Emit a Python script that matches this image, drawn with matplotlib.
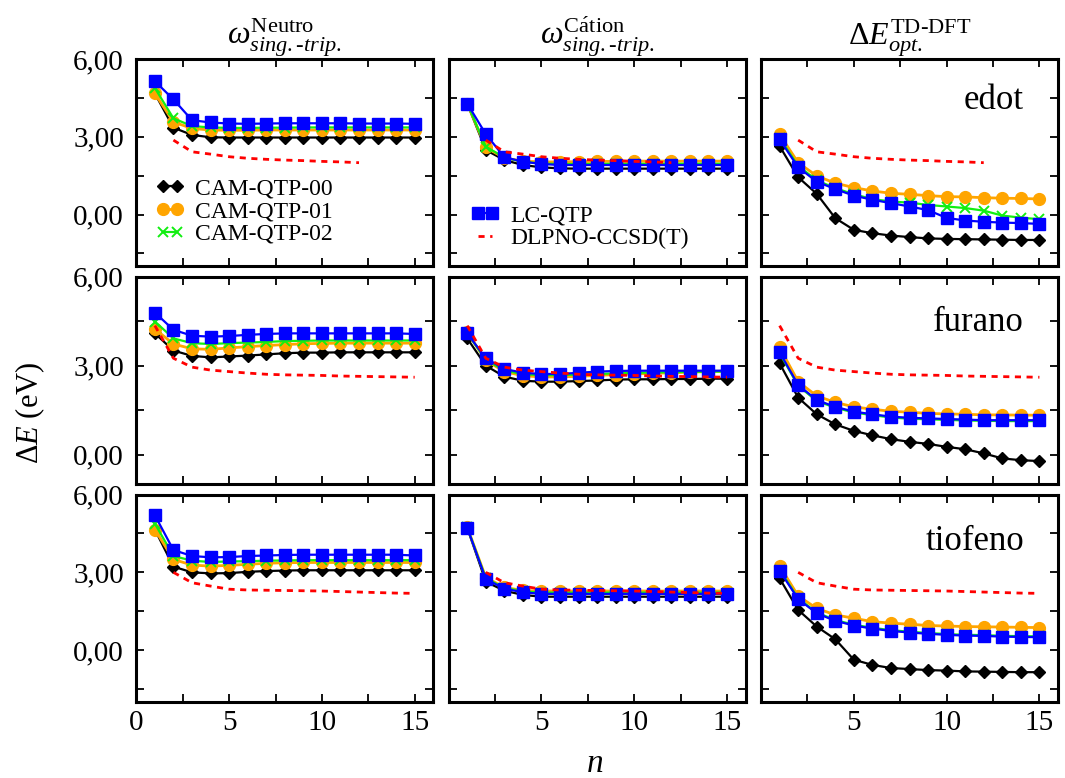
# -*- coding: utf-8 -*-
# plot.py - gaps / singlet-triplet omegas vs chain length n

import matplotlib
matplotlib.use("Agg")
import matplotlib.pyplot as plt
from matplotlib.ticker import MultipleLocator, FuncFormatter

# chain length
n = list(range(1, 16))

# ---------------- edot ----------------
edot_neu_00 = [4.67, 3.35, 3.07, 2.98, 2.97, 2.97, 2.97, 2.97, 2.97, 2.97, 2.97, 2.97, 2.97, 2.97, 2.97]
edot_neu_01 = [4.67, 3.57, 3.32, 3.26, 3.25, 3.25, 3.26, 3.26, 3.26, 3.26, 3.26, 3.26, 3.26, 3.26, 3.26]
edot_neu_02 = [4.88, 3.71, 3.41, 3.36, 3.34, 3.34, 3.35, 3.35, 3.36, 3.36, 3.36, 3.36, 3.36, 3.36, 3.36]
edot_neu_lc = [5.14, 4.44, 3.64, 3.55, 3.51, 3.50, 3.51, 3.52, 3.52, 3.52, 3.52, 3.51, 3.51, 3.51, 3.50]

edot_cat_00 = [4.28, 2.49, 2.10, 1.91, 1.82, 1.78, 1.77, 1.77, 1.77, 1.77, 1.77, 1.77, 1.77, 1.77, 1.77]
edot_cat_01 = [4.28, 2.59, 2.18, 2.06, 2.03, 2.03, 2.04, 2.05, 2.05, 2.06, 2.06, 2.06, 2.06, 2.06, 2.06]
edot_cat_02 = [4.28, 2.62, 2.20, 2.03, 1.97, 1.95, 1.95, 1.95, 1.96, 1.96, 1.96, 1.96, 1.96, 1.96, 1.96]
edot_cat_lc = [4.28, 3.10, 2.21, 2.04, 1.95, 1.91, 1.91, 1.91, 1.91, 1.91, 1.91, 1.91, 1.91, 1.91, 1.91]

edot_opt_00 = [2.64, 1.44, 0.80, -0.14, -0.59, -0.72, -0.81, -0.87, -0.92, -0.94, -0.95, -0.96, -0.97, -0.98, -0.98]
edot_opt_01 = [3.09, 2.00, 1.49, 1.21, 1.04, 0.91, 0.82, 0.78, 0.73, 0.69, 0.68, 0.65, 0.63, 0.62, 0.60]
edot_opt_02 = [2.95, 1.88, 1.32, 1.02, 0.78, 0.60, 0.50, 0.46, 0.37, 0.31, 0.25, 0.15, -0.04, -0.12, -0.18]
edot_opt_lc = [2.90, 1.82, 1.27, 0.98, 0.73, 0.57, 0.44, 0.31, 0.17, -0.13, -0.23, -0.28, -0.31, -0.33, -0.36]

edot_ref_n = [2, 3, 4, 5, 6, 7, 8, 9, 10, 11, 12]
edot_ref = [2.87, 2.42, 2.33, 2.23, 2.17, 2.13, 2.10, 2.08, 2.05, 2.03, 2.00]

# ---------------- furano ----------------
fur_neu_00 = [4.09, 3.51, 3.33, 3.28, 3.31, 3.34, 3.38, 3.42, 3.44, 3.44, 3.45, 3.45, 3.45, 3.45, 3.45]
fur_neu_01 = [4.24, 3.73, 3.57, 3.55, 3.60, 3.64, 3.68, 3.71, 3.74, 3.75, 3.76, 3.76, 3.76, 3.76, 3.76]
fur_neu_02 = [4.49, 3.92, 3.76, 3.73, 3.76, 3.78, 3.80, 3.83, 3.84, 3.85, 3.85, 3.85, 3.85, 3.85, 3.85]
fur_neu_lc = [4.79, 4.21, 4.01, 3.98, 4.00, 4.04, 4.07, 4.09, 4.09, 4.09, 4.09, 4.09, 4.09, 4.09, 4.07]

fur_cat_00 = [3.92, 3.00, 2.63, 2.49, 2.46, 2.46, 2.48, 2.50, 2.53, 2.54, 2.54, 2.55, 2.55, 2.56, 2.56]
fur_cat_01 = [4.12, 3.18, 2.80, 2.66, 2.62, 2.62, 2.64, 2.67, 2.70, 2.72, 2.74, 2.76, 2.78, 2.80, 2.82]
fur_cat_02 = [4.10, 3.20, 2.84, 2.71, 2.68, 2.68, 2.70, 2.72, 2.74, 2.76, 2.77, 2.78, 2.79, 2.80, 2.80]
fur_cat_lc = [4.09, 3.25, 2.89, 2.76, 2.72, 2.72, 2.76, 2.80, 2.82, 2.83, 2.83, 2.83, 2.83, 2.83, 2.83]

fur_opt_00 = [3.08, 1.92, 1.36, 1.02, 0.80, 0.65, 0.52, 0.43, 0.36, 0.26, 0.18, 0.04, -0.13, -0.19, -0.22]
fur_opt_01 = [3.62, 2.46, 1.98, 1.76, 1.61, 1.53, 1.46, 1.43, 1.39, 1.37, 1.36, 1.34, 1.34, 1.33, 1.33]
fur_opt_02 = [3.42, 2.32, 1.81, 1.58, 1.42, 1.33, 1.25, 1.21, 1.19, 1.17, 1.15, 1.14, 1.13, 1.13, 1.13]
fur_opt_lc = [3.45, 2.35, 1.84, 1.61, 1.45, 1.36, 1.28, 1.24, 1.22, 1.20, 1.18, 1.16, 1.16, 1.16, 1.16]

fur_ref_n = n
fur_ref = [4.35, 3.25, 2.95, 2.85, 2.80, 2.75, 2.71, 2.69, 2.68, 2.67, 2.65, 2.64, 2.63, 2.62, 2.61]

# ---------------- tiofeno ----------------
tio_neu_00 = [4.65, 3.22, 3.00, 2.96, 2.97, 3.02, 3.05, 3.07, 3.08, 3.08, 3.08, 3.08, 3.08, 3.08, 3.08]
tio_neu_01 = [4.65, 3.50, 3.28, 3.24, 3.27, 3.31, 3.35, 3.37, 3.38, 3.38, 3.38, 3.38, 3.38, 3.38, 3.38]
tio_neu_02 = [4.88, 3.63, 3.45, 3.40, 3.42, 3.43, 3.45, 3.46, 3.47, 3.47, 3.47, 3.47, 3.47, 3.47, 3.47]
tio_neu_lc = [5.20, 3.86, 3.63, 3.58, 3.59, 3.63, 3.65, 3.67, 3.68, 3.68, 3.68, 3.68, 3.68, 3.68, 3.65]

tio_cat_00 = [4.72, 2.64, 2.29, 2.13, 2.06, 2.06, 2.06, 2.06, 2.06, 2.06, 2.06, 2.06, 2.06, 2.06, 2.06]
tio_cat_01 = [4.74, 2.80, 2.42, 2.30, 2.28, 2.28, 2.28, 2.28, 2.28, 2.28, 2.28, 2.28, 2.28, 2.28, 2.28]
tio_cat_02 = [4.73, 2.77, 2.40, 2.27, 2.22, 2.22, 2.22, 2.22, 2.22, 2.22, 2.22, 2.22, 2.22, 2.22, 2.22]
tio_cat_lc = [4.72, 2.74, 2.37, 2.23, 2.17, 2.17, 2.17, 2.17, 2.17, 2.17, 2.17, 2.17, 2.17, 2.17, 2.17]

tio_opt_00 = [2.77, 1.55, 0.91, 0.42, -0.37, -0.57, -0.69, -0.73, -0.77, -0.79, -0.82, -0.83, -0.84, -0.85, -0.85]
tio_opt_01 = [3.25, 2.09, 1.61, 1.36, 1.23, 1.10, 1.04, 1.00, 0.95, 0.93, 0.91, 0.90, 0.89, 0.88, 0.87]
tio_opt_02 = [3.10, 2.00, 1.45, 1.16, 0.98, 0.86, 0.77, 0.71, 0.66, 0.62, 0.59, 0.58, 0.55, 0.54, 0.53]
tio_opt_lc = [3.06, 1.97, 1.42, 1.13, 0.95, 0.83, 0.74, 0.68, 0.63, 0.59, 0.56, 0.55, 0.52, 0.51, 0.50]

tio_ref_n = [2, 3, 4, 5, 6, 7, 8, 9, 10, 11, 12, 13, 14, 15]
tio_ref = [3.00, 2.60, 2.47, 2.35, 2.32, 2.31, 2.30, 2.29, 2.28, 2.26, 2.24, 2.22, 2.20, 2.19]

molecules = ["edot", "furano", "tiofeno"]
col_titles = [r"$\omega^{\mathrm{Neutro}}_{sing.\text{-}trip.}$",
              r"$\omega^{\mathrm{C\acute{a}tion}}_{sing.\text{-}trip.}$",
              r"$\Delta E^{\mathrm{TD\text{-}DFT}}_{opt.}$"]
row_ylims = [(-2, 6), (-1, 6), (-2, 6)]
text_y = [0.76, 0.74, 0.735]

labels = ["CAM-QTP-00", "CAM-QTP-01", "CAM-QTP-02", "LC-QTP", "DLPNO-CCSD(T)"]

# table built from the named lists: [row][col] -> (00, 01, 02, lc)
table = [
    [(edot_neu_00, edot_neu_01, edot_neu_02, edot_neu_lc),
     (edot_cat_00, edot_cat_01, edot_cat_02, edot_cat_lc),
     (edot_opt_00, edot_opt_01, edot_opt_02, edot_opt_lc)],
    [(fur_neu_00, fur_neu_01, fur_neu_02, fur_neu_lc),
     (fur_cat_00, fur_cat_01, fur_cat_02, fur_cat_lc),
     (fur_opt_00, fur_opt_01, fur_opt_02, fur_opt_lc)],
    [(tio_neu_00, tio_neu_01, tio_neu_02, tio_neu_lc),
     (tio_cat_00, tio_cat_01, tio_cat_02, tio_cat_lc),
     (tio_opt_00, tio_opt_01, tio_opt_02, tio_opt_lc)],
]
refs = [(edot_ref_n, edot_ref), (fur_ref_n, fur_ref), (tio_ref_n, tio_ref)]

plt.rcParams["font.family"] = "Liberation Serif"
plt.rcParams["mathtext.fontset"] = "custom"
plt.rcParams["mathtext.rm"] = "Liberation Serif"
plt.rcParams["mathtext.it"] = "Liberation Serif:italic"

styles = [
    dict(color="black", marker="D", ms=6.5, lw=1.6),
    dict(color="#FFA500", marker="o", ms=8.5, lw=2.0),
    dict(color="#11EE11", marker="x", ms=6.5, mew=1.4, lw=1.6),
    dict(color="#0000FF", marker="s", ms=8, lw=1.6),
]


def comma_fmt(v, pos):
    return ("%.2f" % v).replace(".", ",")


fig = plt.figure(figsize=(10.65, 7.78), dpi=100)
gs = fig.add_gridspec(3, 3, left=0.128, right=0.9934, bottom=0.0977, top=0.9242,
                      wspace=0.052, hspace=0.05)

for r in range(3):
    for c in range(3):
        ax = fig.add_subplot(gs[r, c])
        handles = []
        for k, series in enumerate(table[r][c]):
            h, = ax.plot(n, series, label=labels[k], zorder=2 + k, **styles[k])
            handles.append(h)
        rn, rv = refs[r]
        h, = ax.plot(rn, rv, color="red", lw=2.0, ls=(0, (2.2, 2.0)),
                     label=labels[4], zorder=7)
        handles.append(h)

        ax.set_xlim(0, 16)
        ax.set_ylim(*row_ylims[r])
        ax.xaxis.set_major_locator(MultipleLocator(5))
        ax.xaxis.set_minor_locator(MultipleLocator(2.5))
        ax.yaxis.set_major_locator(MultipleLocator(3))
        ax.yaxis.set_minor_locator(MultipleLocator(1.5))
        ax.tick_params(which="both", direction="in", top=True, right=True,
                       length=6, width=1.3, labelsize=21)
        ax.tick_params(axis="y", pad=9)
        ax.tick_params(axis="x", pad=6)
        for sp in ax.spines.values():
            sp.set_linewidth(2.2)

        if c == 0:
            ax.yaxis.set_major_formatter(FuncFormatter(comma_fmt))
        else:
            ax.set_yticklabels([])
        if r == 2:
            if c == 0:
                ax.xaxis.set_major_formatter(FuncFormatter(lambda v, p: "%d" % v))
            else:
                ax.xaxis.set_major_formatter(
                    FuncFormatter(lambda v, p: "" if v == 0 else "%d" % v))
        else:
            ax.set_xticklabels([])

        if r == 0:
            ax.set_title(col_titles[c], fontsize=23, pad=4)
        if c == 2:
            ax.text(0.886, text_y[r], molecules[r], transform=ax.transAxes,
                    ha="right", va="baseline", fontsize=25)

        if r == 0 and c == 0:
            ax.legend(handles[:3], labels[:3], loc="center left",
                      bbox_to_anchor=(0.065, 0.265), frameon=False, fontsize=17,
                      numpoints=2, handlelength=1.2, handletextpad=0.45,
                      labelspacing=0.05, borderpad=0, borderaxespad=0)
        if r == 0 and c == 1:
            ax.legend(handles[3:], labels[3:], loc="center left",
                      bbox_to_anchor=(0.075, 0.19), frameon=False, fontsize=17,
                      numpoints=2, handlelength=1.2, handletextpad=0.45,
                      labelspacing=0.05, borderpad=0, borderaxespad=0)

fig.text(0.028, 0.47, r"$\Delta E$ (eV)", rotation=90, ha="center", va="center",
         fontsize=22)
fig.text(0.558, 0.018, r"$n$", ha="center", va="center", fontsize=24)

fig.savefig("out.png", dpi=100)
